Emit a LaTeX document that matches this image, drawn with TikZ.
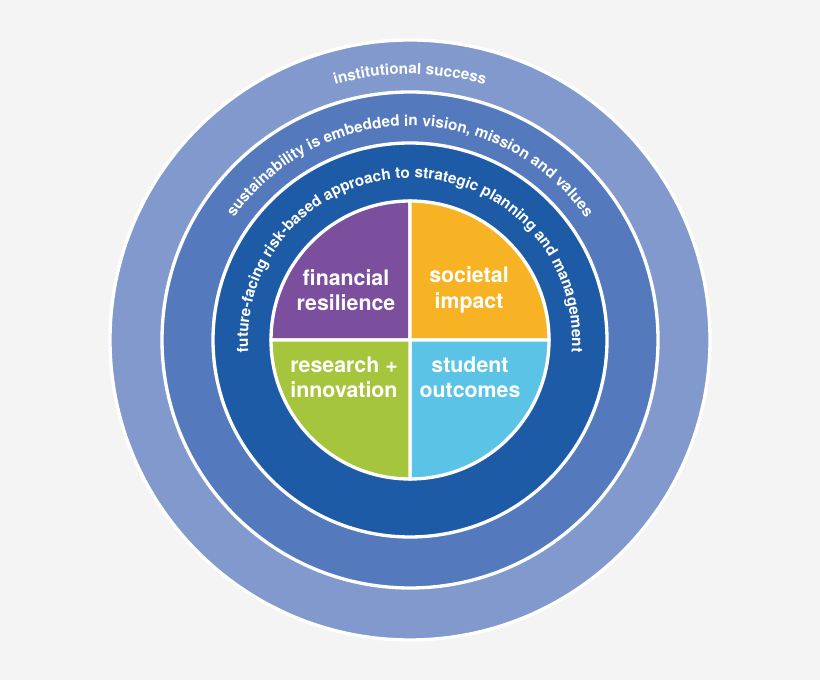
\documentclass[tikz,border=0pt]{standalone}
\usepackage{fontspec}
\setmainfont{TeX Gyre Heros}
\usetikzlibrary{decorations.text}

\definecolor{bgcol}{HTML}{F4F4F4}
\definecolor{ringA}{HTML}{8199CD}
\definecolor{ringB}{HTML}{5479BC}
\definecolor{ringC}{HTML}{1E5BA7}
\definecolor{qpurple}{HTML}{7C4F9E}
\definecolor{qyellow}{HTML}{F8B324}
\definecolor{qgreen}{HTML}{A5C53D}
\definecolor{qcyan}{HTML}{5BC4E6}

\tikzset{
  ring/.style={draw=white, line width=2.5pt},
  quad/.style={draw=white, line width=2.5pt},
  qlabel/.style={text=white, font=\bfseries\fontsize{16}{19}\selectfont, align=center},
  arctext/.style={decorate, decoration={text along path, text align=center,
    text color=white, text={|\bfseries\fontsize{11.5}{13}\selectfont|#1}}}
}

\begin{document}
\begin{tikzpicture}[x=0.75pt,y=0.75pt]

\def\ox{410}
\def\oy{340}

\fill [bgcol] (0,0) rectangle (820,680);
\path [use as bounding box] (0,0) rectangle (820,680);

% RINGS
\filldraw [ring, fill=ringA] (\ox,\oy) circle[radius=300];
\filldraw [ring, fill=ringB] (\ox,\oy) circle[radius=248];
\filldraw [ring, fill=ringC] (\ox,\oy) circle[radius=197];

% QUADRANTS
\filldraw [quad, fill=qpurple] (\ox,\oy) -- ++(180:139) arc[start angle=180, end angle=90, radius=139] -- cycle;
\filldraw [quad, fill=qyellow] (\ox,\oy) -- ++(90:139) arc[start angle=90, end angle=0, radius=139] -- cycle;
\filldraw [quad, fill=qcyan] (\ox,\oy) -- ++(0:139) arc[start angle=0, end angle=-90, radius=139] -- cycle;
\filldraw [quad, fill=qgreen] (\ox,\oy) -- ++(-90:139) arc[start angle=-90, end angle=-180, radius=139] -- cycle;

\node [qlabel] (fin) at (346,390) {financial\\resilience};
\node [qlabel] (soc) at (469,390) {societal\\impact};
\node [qlabel] (res) at (344,303) {research +\\innovation};
\node [qlabel] (stu) at (470,303) {student\\outcomes};

% ARC TEXTS
\path [arctext={institutional success}] (\ox,\oy) ++(120:266) arc[start angle=120, end angle=60, radius=266];
\path [arctext={sustainability is embedded in vision, mission and values}] (\ox,\oy) ++(165:214) arc[start angle=165, end angle=15, radius=214];
\path [arctext={future-facing risk-based approach to strategic planning and management}] (\ox,\oy) ++(205:162) arc[start angle=205, end angle=-25, radius=162];

\end{tikzpicture}
\end{document}
